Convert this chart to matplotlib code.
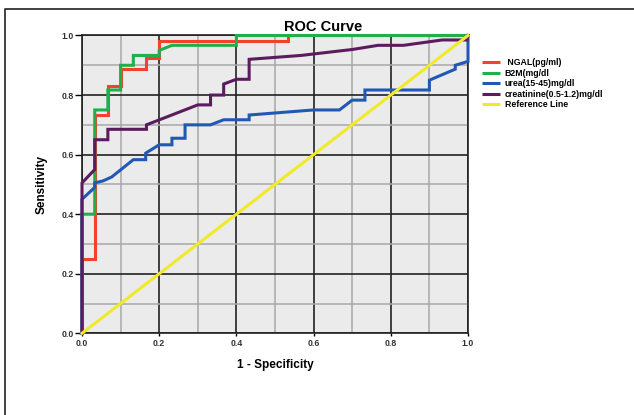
import matplotlib
matplotlib.use("Agg")
import matplotlib.pyplot as plt
from matplotlib.lines import Line2D
from matplotlib.ticker import MultipleLocator

plt.rcParams['font.family'] = ['Liberation Sans', 'DejaVu Sans']

# ROC curves (1 - specificity, sensitivity)
ngal_x = [0, 0, 0.033, 0.033, 0.067, 0.067, 0.1, 0.1, 0.167, 0.167, 0.2, 0.2, 0.533, 0.533, 1.0]
ngal_y = [0, 0.25, 0.25, 0.733, 0.733, 0.83, 0.83, 0.887, 0.887, 0.925, 0.925, 0.98, 0.98, 1.0, 1.0]

b2m_x = [0, 0, 0.033, 0.033, 0.067, 0.067, 0.1, 0.1, 0.133, 0.133, 0.2, 0.2, 0.233, 0.4, 0.4, 1.0]
b2m_y = [0, 0.4, 0.4, 0.75, 0.75, 0.817, 0.817, 0.9, 0.9, 0.933, 0.933, 0.95, 0.967, 0.967, 1.0, 1.0]

urea_x = [0, 0, 0.033, 0.033, 0.055, 0.077, 0.133, 0.165, 0.165, 0.2, 0.233, 0.233, 0.267, 0.267,
          0.333, 0.367, 0.433, 0.433, 0.6, 0.667, 0.7, 0.733, 0.733, 0.9, 0.9, 0.967, 0.967, 1.0, 1.0]
urea_y = [0, 0.45, 0.49, 0.505, 0.512, 0.525, 0.583, 0.583, 0.605, 0.633, 0.633, 0.655, 0.655, 0.7,
          0.7, 0.717, 0.717, 0.733, 0.75, 0.75, 0.783, 0.783, 0.817, 0.817, 0.85, 0.887, 0.9, 0.913, 1.0]

creat_x = [0, 0, 0.033, 0.033, 0.067, 0.067, 0.167, 0.167, 0.3, 0.333, 0.333, 0.367, 0.367, 0.4,
           0.433, 0.433, 0.567, 0.7, 0.767, 0.833, 0.933, 0.997, 1.0]
creat_y = [0, 0.505, 0.55, 0.65, 0.65, 0.685, 0.685, 0.7, 0.767, 0.767, 0.8, 0.8, 0.837, 0.853,
           0.853, 0.92, 0.933, 0.953, 0.967, 0.967, 0.985, 0.985, 1.0]

ref_x = [0, 1]
ref_y = [0, 1]

labels = [" NGAL(pg/ml)", "B2M(mg/dl", "urea(15-45)mg/dl", "creatinine(0.5-1.2)mg/dl", "Reference Line"]
colors = ["#F2412C", "#1FAF4B", "#2158B4", "#5C1B5E", "#F0EA2A"]
ticks = [0.0, 0.2, 0.4, 0.6, 0.8, 1.0]

fig = plt.figure(figsize=(6.34, 4.15), dpi=100)
ax = fig.add_axes([82/634, 1-333.3/415, 386/634, 297.8/415])
ax.set_facecolor("#EBEBEB")

series = [(ngal_x, ngal_y), (b2m_x, b2m_y), (urea_x, urea_y), (creat_x, creat_y), (ref_x, ref_y)]
for (xs, ys), lab, col in zip(series, labels, colors):
    ax.plot(xs, ys, color=col, lw=2.2, label=lab, solid_joinstyle="miter", clip_on=False, zorder=3)

ax.set_xlim(0, 1)
ax.set_ylim(0, 1)
ax.set_xticks(ticks)
ax.set_yticks(ticks)
ax.xaxis.set_minor_locator(MultipleLocator(0.1))
ax.yaxis.set_minor_locator(MultipleLocator(0.1))
ax.grid(which="major", color="#222222", lw=1.2, zorder=1)
ax.grid(which="minor", color="#A8A8A8", lw=1.1, zorder=1)
ax.set_axisbelow(True)
for s in ax.spines.values():
    s.set_color("#222222")
    s.set_linewidth(1.2)

ax.set_xticklabels([f"{t:.1f}" for t in ticks], fontsize=6.3, fontweight="bold", color="#333333")
ax.set_yticklabels([f"{t:.1f}" for t in ticks], fontsize=6.3, fontweight="bold", color="#333333")
ax.tick_params(axis="y", which="major", length=5, width=1, pad=1)
ax.tick_params(axis="x", which="major", length=2, width=1, pad=2)
ax.tick_params(which="minor", length=0)

ax.set_xlabel("1 - Specificity", fontsize=8.5, fontweight="bold", labelpad=8)
ax.set_ylabel("Sensitivity", fontsize=8.5, fontweight="bold", labelpad=10)
fig.text(0.51, 1-27/415, "ROC Curve", ha="center", va="center", fontsize=10.5, fontweight="bold")

leg = fig.legend(loc="upper left", bbox_to_anchor=(482/634, 1-58/415), frameon=False,
                 prop={"size": 6.3, "weight": "bold"}, handlelength=2.1, handletextpad=0.5,
                 labelspacing=0.18, borderpad=0, borderaxespad=0)
for h in leg.legend_handles:
    h.set_solid_capstyle("butt")

# chart frame
fig.add_artist(Line2D([5/634, 5/634, 1], [0, 1-9/415, 1-9/415], color="#333333", lw=1.3,
                      transform=fig.transFigure))

fig.savefig("out.png", dpi=100)
